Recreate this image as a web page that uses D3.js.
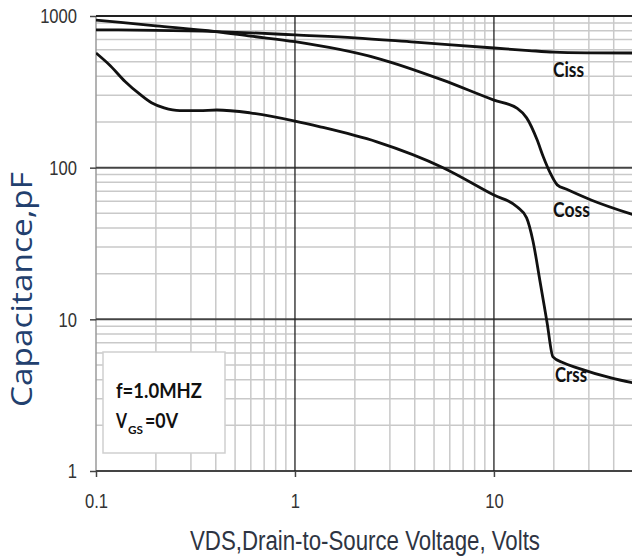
<!DOCTYPE html>
<html>
<head>
<script src="https://d3js.org/d3.v7.min.js"></script>
<style>
  body { margin: 0; background: #fff; }
  svg { display: block; }
  .curve { fill: none; stroke: #111; stroke-width: 2.8; }
</style>
</head>
<body>
<svg width="632" height="559"></svg>
<script>
// capacitance vs VDS
let cissX = [0.1, 0.2, 0.4, 0.6, 1, 2, 4, 10, 15, 20, 30, 50];
let cissY = [810, 805, 790, 775, 750, 718, 672, 615, 592, 578, 572, 570];

let cossX = [0.1, 0.2, 0.4, 0.6, 1, 2.6, 5.5, 10, 13.1, 14.6, 16.5, 17.7, 19.2, 20.8, 23.2, 31, 50];
let cossY = [940, 862, 790, 737, 677, 526, 379, 279, 246, 213, 152, 118, 92, 77, 72, 61, 49];

let crssX = [0.1, 0.118, 0.14, 0.166, 0.19, 0.22, 0.264, 0.33, 0.405, 0.594, 1, 1.34, 2.58, 5.55, 10, 13.1, 14.6, 15.7, 17, 18.5, 19.8, 22.3, 26.2, 38.8, 50];
let crssY = [570, 470, 370, 305, 268, 248, 238, 238, 240, 230, 203, 186, 148, 100, 66, 55, 46.7, 33, 18.2, 9.5, 5.65, 5.17, 4.79, 4.11, 3.81];

let xTicks = [0.1, 1, 10];
let xTickLabels = ['0.1', '1', '10'];
let yTicks = [1, 10, 100, 1000];

let svg = d3.select('svg');
let sx = 0.79; // text in the picture is squeezed sideways

let x = d3.scaleLog().domain([0.1, 50]).range([96, 633]);
let y = d3.scaleLog().domain([1, 1000]).range([471, 16]);

let grid = svg.append('g');
let isDecade = v => Math.abs(Math.log10(v) - Math.round(Math.log10(v))) < 1e-6;

// minor grid first
grid.selectAll('.vminor')
    .data(x.ticks().filter(d => !isDecade(d)))
    .join('line')
    .attr('x1', d => x(d)).attr('x2', d => x(d))
    .attr('y1', y(1)).attr('y2', y(1000))
    .attr('stroke', '#c9c9c9').attr('stroke-width', 1.5);
grid.selectAll('.hminor')
    .data(y.ticks().filter(d => !isDecade(d)))
    .join('line')
    .attr('x1', x(0.1)).attr('x2', 632)
    .attr('y1', d => y(d)).attr('y2', d => y(d))
    .attr('stroke', '#c9c9c9').attr('stroke-width', 1.5);

// left edge is light
grid.append('line')
    .attr('x1', x(0.1)).attr('x2', x(0.1))
    .attr('y1', y(1)).attr('y2', y(1000))
    .attr('stroke', '#9a9a9a').attr('stroke-width', 1.5);

// major grid
grid.selectAll('.hmajor')
    .data(yTicks)
    .join('line')
    .attr('x1', x(0.1)).attr('x2', 632)
    .attr('y1', d => y(d)).attr('y2', d => y(d))
    .attr('stroke', d => d == 1000 ? '#222' : '#444').attr('stroke-width', 2);
grid.selectAll('.vmajor')
    .data(xTicks.slice(1))
    .join('line')
    .attr('x1', d => x(d)).attr('x2', d => x(d))
    .attr('y1', y(1)).attr('y2', y(1000))
    .attr('stroke', '#222').attr('stroke-width', 1.3);

// axes
let yAxis = svg.append('g')
    .attr('transform', `translate(${x(0.1)},0)`)
    .call(d3.axisLeft(y).tickValues(yTicks).tickSize(6).tickPadding(13).tickFormat(d3.format('d')));
let xAxis = svg.append('g')
    .attr('transform', `translate(0,${y(1)})`)
    .call(d3.axisBottom(x).tickValues(xTicks).tickSize(6).tickPadding(16).tickFormat((d, i) => xTickLabels[i]));

[yAxis, xAxis].forEach(a => {
    a.select('.domain').remove();
    a.selectAll('.tick line').attr('stroke', '#444').attr('stroke-width', 1.5);
    a.selectAll('.tick text')
        .attr('fill', '#333')
        .style('font-family', '"Liberation Sans", Arial, sans-serif')
        .style('font-size', '21px');
});
yAxis.selectAll('.tick text')
    .attr('transform', `translate(-19,0) scale(${sx},1)`).attr('x', 0);
xAxis.selectAll('.tick text')
    .attr('transform', `translate(0,22) scale(${sx},1)`).attr('y', 0);

// curves
svg.append('clipPath').attr('id', 'plot')
    .append('rect').attr('x', x(0.1)).attr('y', y(1000)).attr('width', 632 - x(0.1)).attr('height', y(1) - y(1000));

let line = d3.line()
    .x(d => x(d[0]))
    .y(d => y(d[1]))
    .curve(d3.curveMonotoneX);

let series = [
    d3.zip(cissX, cissY),
    d3.zip(cossX, cossY),
    d3.zip(crssX, crssY)
];
svg.append('g').attr('clip-path', 'url(#plot)')
    .selectAll('path')
    .data(series)
    .join('path')
    .attr('class', 'curve')
    .attr('d', line);

// curve labels
let bold = 'Lato, "Open Sans", sans-serif';
let curveLabels = [
    {t: 'Ciss', x: 553, y: 77, w: 31},
    {t: 'Coss', x: 553, y: 217, w: 37},
    {t: 'Crss', x: 555, y: 382, w: 32}
];
svg.selectAll('.clabel')
    .data(curveLabels)
    .join('text')
    .attr('x', d => d.x).attr('y', d => d.y)
    .attr('textLength', d => d.w).attr('lengthAdjust', 'spacingAndGlyphs')
    .style('font-family', bold).style('font-weight', 700).style('font-size', '20px')
    .attr('fill', '#111')
    .text(d => d.t);

// condition box
svg.append('rect')
    .attr('x', 103).attr('y', 352).attr('width', 122).attr('height', 101)
    .attr('fill', '#fff').attr('stroke', '#cfcfcf').attr('stroke-width', 1.5);

let note = svg.append('g')
    .style('font-family', bold).style('font-weight', 700).attr('fill', '#111');
note.append('text').attr('x', 116).attr('y', 398)
    .attr('textLength', 86).attr('lengthAdjust', 'spacingAndGlyphs')
    .style('font-size', '20px').text('f=1.0MHZ');
note.append('text').attr('x', 116).attr('y', 428)
    .attr('textLength', 11).attr('lengthAdjust', 'spacingAndGlyphs')
    .style('font-size', '20px').text('V');
note.append('text').attr('x', 128).attr('y', 434)
    .attr('textLength', 15).attr('lengthAdjust', 'spacingAndGlyphs')
    .style('font-size', '12px').text('GS');
note.append('text').attr('x', 145).attr('y', 428)
    .attr('textLength', 33).attr('lengthAdjust', 'spacingAndGlyphs')
    .style('font-size', '20px').text('=0V');

// axis titles
svg.append('text')
    .attr('transform', 'translate(32,407) rotate(-90)')
    .attr('textLength', 235).attr('lengthAdjust', 'spacingAndGlyphs')
    .style('font-family', '"Open Sans", sans-serif').style('font-weight', 400).style('font-size', '29px')
    .attr('fill', '#22406e')
    .text('Capacitance,pF');

svg.append('text')
    .attr('x', 190).attr('y', 550)
    .attr('textLength', 350).attr('lengthAdjust', 'spacingAndGlyphs')
    .style('font-family', '"Liberation Sans", Arial, sans-serif').style('font-size', '27px')
    .attr('fill', '#2e3442')
    .text('VDS,Drain-to-Source Voltage, Volts');
</script>
</body>
</html>
